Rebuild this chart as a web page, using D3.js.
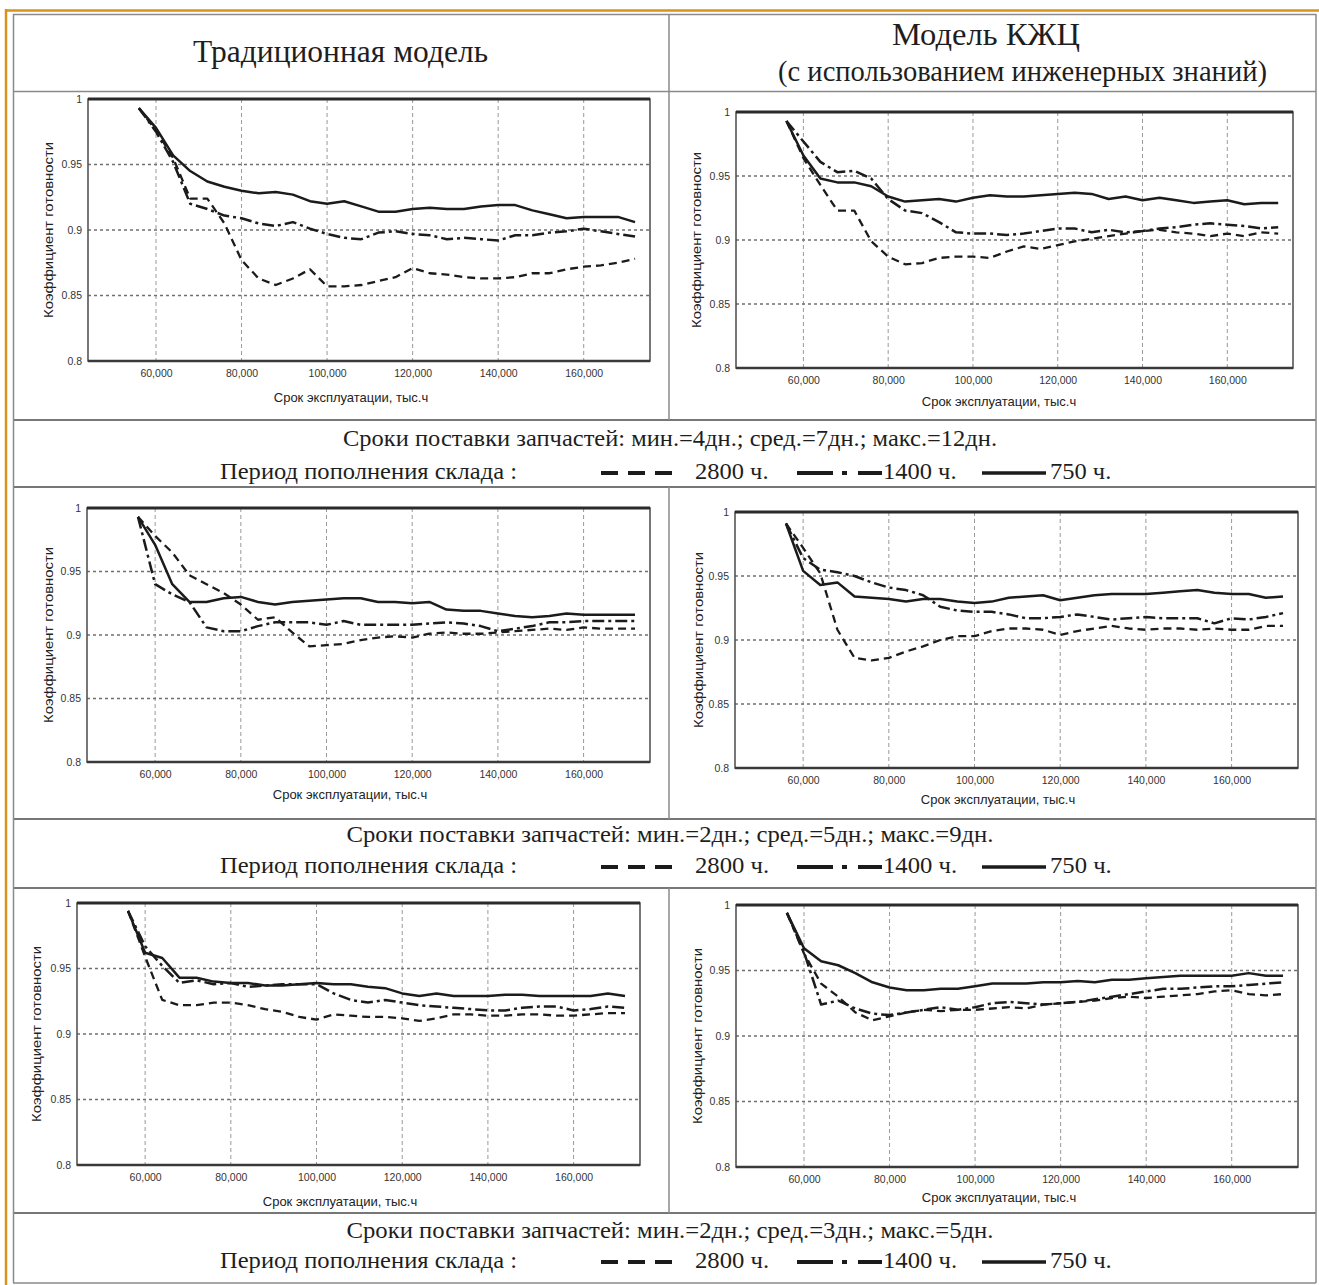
<!DOCTYPE html>
<html><head><meta charset="utf-8">
<script src="https://cdn.jsdelivr.net/npm/d3@7"></script>
<style>body{margin:0;background:#fff}svg{display:block}</style>
</head><body>
<svg id="c" width="1319" height="1285"></svg>
<script>
// ---------- DATA ----------
const hours = [56000,60000,64000,68000,72000,76000,80000,84000,88000,92000,96000,100000,104000,108000,112000,116000,120000,124000,128000,132000,136000,140000,144000,148000,152000,156000,160000,164000,168000,172000];
const xTicks = [60000,80000,100000,120000,140000,160000];
const yTicks = [1,0.95,0.9,0.85,0.8];
const yTickLabels = ["1","0.95","0.9","0.85","0.8"];
const periods = ["2800 ч.","1400 ч.","750 ч."];
const headers = ["Традиционная модель","Модель КЖЦ","(с использованием инженерных знаний)"];
const deliveryTexts = [
  "Сроки поставки запчастей: мин.=4дн.; сред.=7дн.; макс.=12дн.",
  "Сроки поставки запчастей: мин.=2дн.; сред.=5дн.; макс.=9дн.",
  "Сроки поставки запчастей: мин.=2дн.; сред.=3дн.; макс.=5дн."
];
const periodLabel = "Период пополнения склада :";
const yTitle = "Коэффициент готовности";
const xTitle = "Срок эксплуатации, тыс.ч";

// row 1 (4/7/12 days)
const trad1_2800 = [0.993,0.976,0.955,0.924,0.924,0.905,0.877,0.863,0.858,0.863,0.870,0.857,0.857,0.858,0.861,0.864,0.871,0.867,0.866,0.864,0.863,0.863,0.864,0.867,0.867,0.870,0.872,0.873,0.875,0.878];
const trad1_1400 = [0.993,0.975,0.952,0.920,0.916,0.911,0.909,0.905,0.903,0.906,0.901,0.897,0.894,0.893,0.898,0.899,0.897,0.896,0.893,0.894,0.893,0.892,0.896,0.896,0.898,0.899,0.901,0.899,0.897,0.895];
const trad1_750  = [0.993,0.978,0.957,0.945,0.937,0.933,0.930,0.928,0.929,0.927,0.922,0.920,0.922,0.918,0.914,0.914,0.916,0.917,0.916,0.916,0.918,0.919,0.919,0.915,0.912,0.909,0.910,0.910,0.910,0.906];
const kzc1_2800 = [0.993,0.964,0.943,0.923,0.923,0.899,0.887,0.881,0.882,0.886,0.887,0.887,0.886,0.891,0.895,0.893,0.896,0.899,0.901,0.903,0.905,0.907,0.908,0.906,0.905,0.903,0.905,0.903,0.906,0.905];
const kzc1_1400 = [0.993,0.977,0.961,0.953,0.954,0.948,0.932,0.923,0.921,0.914,0.906,0.905,0.905,0.904,0.905,0.907,0.909,0.909,0.906,0.908,0.906,0.907,0.909,0.910,0.912,0.913,0.912,0.911,0.909,0.910];
const kzc1_750  = [0.993,0.966,0.948,0.945,0.945,0.942,0.934,0.930,0.931,0.932,0.930,0.933,0.935,0.934,0.934,0.935,0.936,0.937,0.936,0.932,0.934,0.931,0.933,0.931,0.929,0.930,0.931,0.928,0.929,0.929];
// row 2 (2/5/9 days)
const trad2_2800 = [0.993,0.978,0.965,0.947,0.940,0.933,0.924,0.912,0.914,0.902,0.891,0.892,0.893,0.896,0.898,0.899,0.898,0.901,0.902,0.901,0.901,0.902,0.903,0.904,0.905,0.904,0.906,0.905,0.905,0.905];
const trad2_1400 = [0.993,0.940,0.932,0.926,0.906,0.903,0.903,0.907,0.910,0.910,0.910,0.908,0.911,0.908,0.908,0.908,0.908,0.909,0.910,0.909,0.907,0.903,0.905,0.907,0.910,0.910,0.911,0.911,0.911,0.911];
const trad2_750  = [0.993,0.971,0.940,0.926,0.926,0.929,0.930,0.926,0.924,0.926,0.927,0.928,0.929,0.929,0.926,0.926,0.925,0.926,0.920,0.919,0.919,0.917,0.915,0.914,0.915,0.917,0.916,0.916,0.916,0.916];
const kzc2_2800 = [0.991,0.972,0.952,0.908,0.886,0.884,0.886,0.891,0.895,0.900,0.903,0.903,0.907,0.909,0.909,0.908,0.904,0.907,0.909,0.911,0.909,0.908,0.909,0.909,0.908,0.909,0.908,0.908,0.911,0.911];
const kzc2_1400 = [0.991,0.964,0.955,0.953,0.950,0.945,0.941,0.939,0.935,0.926,0.923,0.922,0.922,0.920,0.917,0.917,0.918,0.920,0.918,0.916,0.917,0.918,0.917,0.917,0.917,0.913,0.917,0.916,0.918,0.921];
const kzc2_750  = [0.991,0.954,0.943,0.945,0.934,0.933,0.932,0.930,0.932,0.932,0.930,0.929,0.930,0.933,0.934,0.935,0.931,0.933,0.935,0.936,0.936,0.936,0.937,0.938,0.939,0.937,0.936,0.936,0.933,0.934];
// row 3 (2/3/5 days)
const trad3_2800 = [0.994,0.959,0.926,0.922,0.922,0.924,0.924,0.922,0.919,0.917,0.913,0.911,0.915,0.914,0.913,0.913,0.912,0.910,0.912,0.915,0.915,0.914,0.914,0.915,0.915,0.914,0.914,0.915,0.916,0.916];
const trad3_1400 = [0.994,0.967,0.952,0.939,0.941,0.938,0.939,0.936,0.937,0.938,0.938,0.938,0.931,0.926,0.924,0.926,0.924,0.922,0.921,0.920,0.919,0.918,0.918,0.920,0.921,0.921,0.918,0.919,0.921,0.920];
const trad3_750  = [0.994,0.962,0.958,0.943,0.943,0.940,0.939,0.939,0.937,0.937,0.938,0.939,0.938,0.938,0.936,0.935,0.931,0.929,0.931,0.929,0.929,0.929,0.930,0.930,0.929,0.929,0.929,0.929,0.931,0.929];
const kzc3_2800 = [0.994,0.963,0.940,0.930,0.918,0.912,0.915,0.918,0.920,0.919,0.920,0.920,0.921,0.922,0.921,0.924,0.925,0.926,0.927,0.929,0.930,0.929,0.930,0.931,0.932,0.934,0.935,0.932,0.931,0.932];
const kzc3_1400 = [0.994,0.964,0.924,0.927,0.921,0.917,0.916,0.918,0.920,0.922,0.920,0.922,0.925,0.926,0.925,0.924,0.925,0.926,0.928,0.930,0.932,0.934,0.936,0.936,0.937,0.938,0.938,0.939,0.940,0.941];
const kzc3_750  = [0.994,0.967,0.957,0.954,0.948,0.941,0.937,0.935,0.935,0.936,0.936,0.938,0.940,0.940,0.940,0.941,0.941,0.942,0.941,0.943,0.943,0.944,0.945,0.946,0.946,0.946,0.946,0.948,0.946,0.946];

// ---------- LAYOUT ----------
const svg = d3.select("#c");
const SERIF = "'Liberation Serif','Times New Roman',serif";
const SANS = "'Liberation Sans',Arial,sans-serif";
const INK = "#1b1b1b";
const TXT = "#1e1e1e";
const styles = [
  {dash:"8,5", w:2.3},          // 2800
  {dash:"12,4,3,4", w:2.5},     // 1400
  {dash:null, w:2.5}            // 750
];

const panels = [
  {l:88,  r:650,  t:99,  b:361,  yl:48,  xl:398,  series:[trad1_2800,trad1_1400,trad1_750]},
  {l:736, r:1293, t:112, b:368,  yl:696, xl:402,  series:[kzc1_2800,kzc1_1400,kzc1_750]},
  {l:87,  r:650,  t:508, b:762,  yl:48,  xl:795,  series:[trad2_2800,trad2_1400,trad2_750]},
  {l:735, r:1298, t:512, b:768,  yl:698, xl:800,  series:[kzc2_2800,kzc2_1400,kzc2_750]},
  {l:77,  r:640,  t:903, b:1165, yl:36,  xl:1202, series:[trad3_2800,trad3_1400,trad3_750]},
  {l:736, r:1298, t:905, b:1167, yl:697, xl:1198, series:[kzc3_2800,kzc3_1400,kzc3_750]}
];

// ---------- TABLE FRAME ----------
const frame = svg.append("g");
const gray = "#8a8a8a";
function hline(y,x1,x2,w,c){frame.append("line").attr("x1",x1).attr("x2",x2).attr("y1",y).attr("y2",y).attr("stroke",c||gray).attr("stroke-width",w||2);}
function vline(x,y1,y2,w,c){frame.append("line").attr("x1",x).attr("x2",x).attr("y1",y1).attr("y2",y2).attr("stroke",c||gray).attr("stroke-width",w||2);}
hline(10.5,5,1319,2.5,"#d9921c");
vline(6,9,1285,2.5,"#d9921c");
hline(14.5,13,1316,1.5);
hline(91.5,13,1316,1.5);
hline(420,13,1316,2.2,"#777");
hline(487,13,1316,2.2,"#777");
hline(819,13,1316,2.2,"#777");
hline(888,13,1316,2.2,"#777");
hline(1213,13,1316,2.2,"#777");
hline(1283,13,1316,1.5);
vline(13.5,14,1283,1.5);
vline(1316,14,1283,1.5);
vline(669,14,420,1.5);
vline(669,487,819,1.5);
vline(669,888,1213,1.5);

// squeeze text horizontally (condensed Times look) to a given width
function squeeze(sel, width){
  sel.attr("textLength", width).attr("lengthAdjust","spacingAndGlyphs");
  return sel;
}
function natural(sel){ return sel.node().getComputedTextLength(); }

// ---------- HEADERS ----------
const h0 = svg.append("text").text(headers[0]).attr("x",193).attr("y",62)
  .attr("font-family",SERIF).attr("font-size",31).attr("fill",TXT);
squeeze(h0,295);
const h1 = svg.append("text").text(headers[1]).attr("x",892).attr("y",45)
  .attr("font-family",SERIF).attr("font-size",31).attr("fill",TXT);
squeeze(h1,188);
const h2 = svg.append("text").text(headers[2]).attr("x",778).attr("y",81)
  .attr("font-family",SERIF).attr("font-size",29).attr("fill",TXT);
squeeze(h2,489);

// ---------- LEGEND ROWS ----------
const legendRows = [{b1:446,b2:479,w:654},{b1:842,b2:873,w:647},{b1:1238,b2:1268,w:647}];
legendRows.forEach((row,i)=>{
  const g = svg.append("g");
  const FS = 23;
  const t1 = g.append("text").text(deliveryTexts[i]).attr("x",670-row.w/2).attr("y",row.b1)
    .attr("font-family",SERIF).attr("font-size",FS).attr("fill",TXT);
  const ratio = row.w/natural(t1);
  squeeze(t1,row.w);
  const t2 = g.append("text").text(periodLabel).attr("x",220).attr("y",row.b2)
    .attr("font-family",SERIF).attr("font-size",FS).attr("fill",TXT);
  squeeze(t2,297);
  const sy = row.b2-6;
  const addNum = (txt,x)=>{
    const t = g.append("text").text(txt).attr("x",x).attr("y",row.b2)
      .attr("font-family",SERIF).attr("font-size",FS).attr("fill",TXT);
    squeeze(t, natural(t)*ratio);
  };
  g.append("line").attr("x1",601).attr("x2",672).attr("y1",sy).attr("y2",sy)
    .attr("stroke",INK).attr("stroke-width",4).attr("stroke-dasharray","17,10");
  addNum(periods[0],695);
  g.append("line").attr("x1",797).attr("x2",882).attr("y1",sy).attr("y2",sy)
    .attr("stroke",INK).attr("stroke-width",4).attr("stroke-dasharray","36,9,5,11,24");
  addNum(periods[1],883);
  g.append("line").attr("x1",982).attr("x2",1046).attr("y1",sy).attr("y2",sy)
    .attr("stroke",INK).attr("stroke-width",3.5);
  addNum(periods[2],1050);
});

// ---------- CHARTS ----------
panels.forEach(p=>{
  const x = d3.scaleLinear().domain([44100,175500]).range([p.l,p.r]);
  const y = d3.scaleLinear().domain([0.8,1]).range([p.b,p.t]);
  const g = svg.append("g");
  g.append("g").selectAll("line").data(xTicks).join("line")
    .attr("x1",d=>x(d)).attr("x2",d=>x(d)).attr("y1",p.t).attr("y2",p.b)
    .attr("stroke","#9a9a9a").attr("stroke-width",1).attr("stroke-dasharray","4,3");
  g.append("g").selectAll("line").data(yTicks.filter(v=>v>0.8&&v<1)).join("line")
    .attr("x1",p.l).attr("x2",p.r).attr("y1",d=>y(d)).attr("y2",d=>y(d))
    .attr("stroke","#6f6f6f").attr("stroke-width",1.3).attr("stroke-dasharray","3,3");
  const xa = g.append("g").attr("transform",`translate(0,${p.b})`)
    .call(d3.axisBottom(x).tickValues(xTicks).tickFormat(d3.format(",")).tickSize(0).tickPadding(9));
  xa.select(".domain").remove();
  xa.selectAll("text").attr("font-family",SANS).attr("font-size",10.5).attr("fill","#333");
  const ya = g.append("g").attr("transform",`translate(${p.l},0)`)
    .call(d3.axisLeft(y).tickValues(yTicks).tickFormat((d,i)=>yTickLabels[i]).tickSize(0).tickPadding(6));
  ya.select(".domain").remove();
  ya.selectAll("text").attr("font-family",SANS).attr("font-size",10.5).attr("fill","#333");
  g.append("rect").attr("x",p.l).attr("y",p.t).attr("width",p.r-p.l).attr("height",p.b-p.t)
    .attr("fill","none").attr("stroke","#555").attr("stroke-width",1.6);
  g.append("line").attr("x1",p.l).attr("x2",p.r).attr("y1",p.t).attr("y2",p.t).attr("stroke","#2a2a2a").attr("stroke-width",3);
  g.append("line").attr("x1",p.l).attr("x2",p.r).attr("y1",p.b).attr("y2",p.b).attr("stroke","#3a3a3a").attr("stroke-width",2.4);
  const line = d3.line().x((d,i)=>x(hours[i])).y(d=>y(d));
  p.series.forEach((s,k)=>{
    const path = g.append("path").datum(s).attr("d",line).attr("fill","none")
      .attr("stroke",INK).attr("stroke-width",styles[k].w).attr("stroke-linejoin","round");
    if(styles[k].dash) path.attr("stroke-dasharray",styles[k].dash);
  });
  g.append("text").text(xTitle).attr("x",p.l+263).attr("y",p.xl+4).attr("text-anchor","middle")
    .attr("font-family",SANS).attr("font-size",13).attr("fill","#222");
  const cy = (p.t+p.b)/2;
  g.append("text").text(yTitle).attr("transform",`translate(${p.yl+5},${cy}) rotate(-90)`)
    .attr("text-anchor","middle").attr("font-family",SANS).attr("font-size",13).attr("fill","#222")
    .attr("textLength",176).attr("lengthAdjust","spacingAndGlyphs");
});
</script>
</body></html>
